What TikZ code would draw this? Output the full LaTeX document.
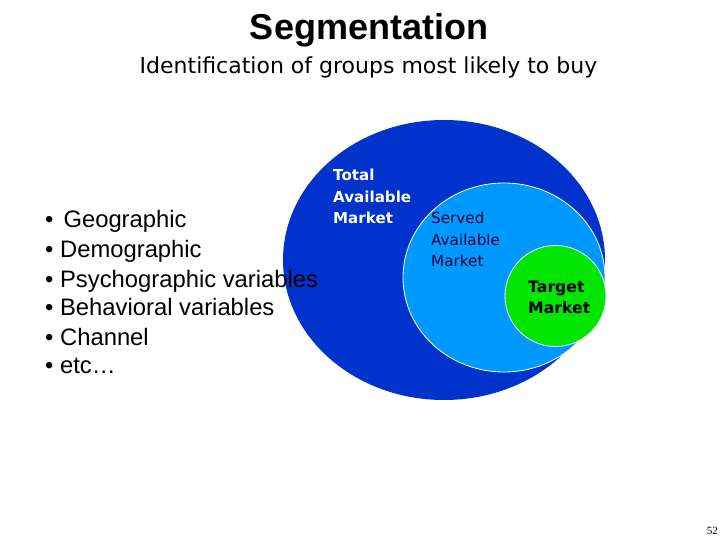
\documentclass[tikz,border=0pt]{standalone}
\usepackage{fontspec}
\setmainfont{Liberation Sans}
\newfontfamily\verd{DejaVu Sans}
\newfontfamily\numfont{Liberation Serif}
\definecolor{tamblue}{RGB}{0,51,204}
\definecolor{samblue}{RGB}{0,153,255}
\definecolor{tmgreen}{RGB}{0,230,0}
\definecolor{samtext}{RGB}{0,0,60}
\begin{document}
\begin{tikzpicture}[x=1pt,y=-1pt,
  line/.style={inner sep=0pt, anchor=base west},
  listfont/.style={font=\fontsize{23.8}{28}\selectfont},
  tamfont/.style={font=\verd\bfseries\fontsize{15.1}{21}\selectfont, text=white},
  samfont/.style={font=\verd\fontsize{15.2}{21}\selectfont, text=samtext},
  tmfont/.style={font=\verd\bfseries\fontsize{15.7}{21}\selectfont, text=black},
  market/.style={line width=0.8pt}]
\useasboundingbox (0,0) rectangle (720,540);
% title
\node[inner sep=0pt, anchor=base] (title) at (369,40) {\fontsize{36}{40}\selectfont\bfseries Segmentation};
\node[inner sep=0pt, anchor=base] (sub) at (368.5,74) {\verd\fontsize{22}{26}\selectfont Identification of groups most likely to buy};
% markets
\fill[tamblue] (444,260) ellipse [x radius=161, y radius=140];
\filldraw[fill=samblue, draw=white, market] (504,277.5) ellipse [x radius=101, y radius=94.5];
\filldraw[fill=tmgreen, draw=white, market] (555.5,296) circle [radius=50.5];
% market labels
\node[line, tamfont] (tam1) at (333,181) {Total};
\node[line, tamfont] (tam2) at (333,202.5) {Available};
\node[line, tamfont] (tam3) at (333,224) {Market};
\node[line, samfont] (sam1) at (431,223.5) {Served};
\node[line, samfont] (sam2) at (431,245) {Available};
\node[line, samfont] (sam3) at (431,266.5) {Market};
\node[line, tmfont] (tm1) at (528,292) {Target};
\node[line, tmfont] (tm2) at (528,313.5) {Market};
% list
\node[line, listfont] (l1) at (45,228) {\textbullet\hspace{10pt}Geographic};
\node[line, listfont] (l2) at (45,258) {\textbullet\ Demographic};
\node[line, listfont] (l3) at (45,287) {\textbullet\ Psychographic variables};
\node[line, listfont] (l4) at (45,315.5) {\textbullet\ Behavioral variables};
\node[line, listfont] (l5) at (45,345) {\textbullet\ Channel};
\node[line, listfont] (l6) at (45,373.5) {\textbullet\ etc\ldots};
% page number
\node[inner sep=0pt, anchor=base east] (pg) at (718,534) {\numfont\fontsize{11}{12}\selectfont 52};
\end{tikzpicture}
\end{document}
